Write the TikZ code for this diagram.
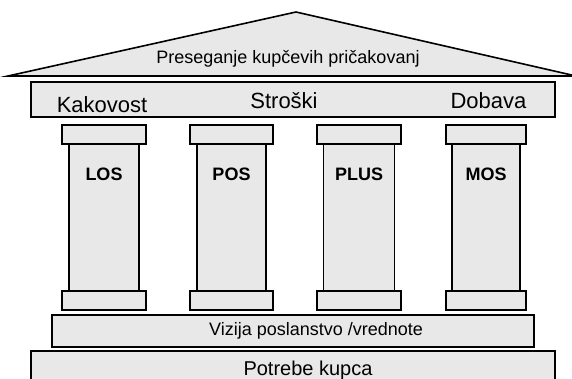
\documentclass[tikz,border=0pt]{standalone}
\usepackage{fontspec}
\setmainfont{Liberation Sans}
\definecolor{stone}{HTML}{E8E8E8}
\newcommand{\fsz}[1]{\fontsize{#1}{#1}\selectfont}
\tikzset{block/.style={draw,fill=stone,line width=1.6pt,inner sep=0pt,rectangle}}

\begin{document}
\begin{tikzpicture}[x=1pt,y=-1pt]
  \useasboundingbox (0,0) rectangle (572,378);
  % roof
  \coordinate (L) at (8,76);
  \coordinate (R) at (576,76);
  \coordinate (T) at (296,12);
  \draw[line width=1.6pt,fill=stone] (L)--(T)--(R)--cycle;
  \node (roof) at (288,59) {\fsz{18}Preseganje kupčevih pričakovanj};
  % beam
  \node[block,minimum width=524pt,minimum height=35pt] (beam) at (293,99.5) {};
  \node[anchor=base] (kak) at (102,112) {\fsz{22}Kakovost};
  \node[anchor=base] (str) at (284,108) {\fsz{22}Stroški};
  \node[anchor=base] (dob) at (488.5,108) {\fsz{22}Dobava};
  % pillars
  \foreach \x/\cw/\sw/\lab [count=\i] in {104/84/70/LOS,231.5/83/69/POS,359/84/71/PLUS,486/80/68/MOS}{
    \node[block,minimum width=\sw pt,minimum height=147pt] (shaft\i) at (\x,217.5) {};
    \node[block,minimum width=\cw pt,minimum height=19pt] (cap\i) at (\x,134.5) {};
    \node[block,minimum width=\cw pt,minimum height=19pt] (base\i) at (\x,300.5) {};
    \node (lab\i) at (\x,174) {\fsz{18}\bfseries\lab};
  }
  % foundation
  \node[block,minimum width=482pt,minimum height=32pt] (vis) at (293,331) {};
  \node (vistxt) at (316,331) {\fsz{18}Vizija poslanstvo /vrednote};
  \node[block,minimum width=524pt,minimum height=40pt] (need) at (293,371) {};
  \node[anchor=base] (needtxt) at (308,375) {\fsz{20}Potrebe kupca};
\end{tikzpicture}
\end{document}
